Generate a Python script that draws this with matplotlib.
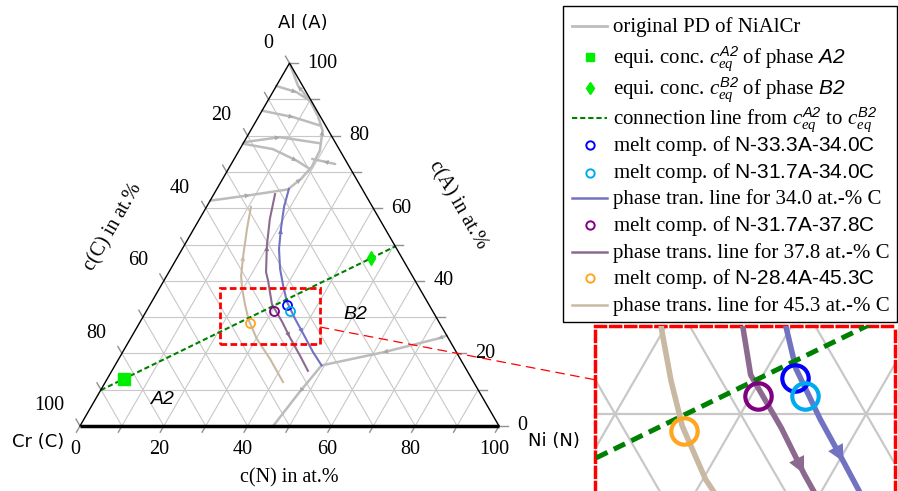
import numpy as np
import matplotlib.pyplot as plt
from matplotlib.patches import Rectangle, ConnectionPatch

plt.rcParams['mathtext.fontset'] = 'custom'
plt.rcParams['mathtext.rm'] = 'Liberation Serif'
plt.rcParams['mathtext.it'] = 'Liberation Serif:italic'
plt.rcParams['mathtext.sf'] = 'Liberation Sans'
# \mathbf is borrowed for the italic sans phase names A2 / B2
plt.rcParams['mathtext.bf'] = 'Liberation Sans:italic'

SERIF = 'Liberation Serif'
H = np.sqrt(3) / 2

# ---- data, compositions in at.% given as (N, A); C = 100 - N - A ----
# original phase diagram of NiAlCr
pd_main_N = [17.0, 18.7, 19.6, 19.3, 17.2, 14.0, 10.1, 5.2, 0.0]
pd_main_A = [65.2, 68.1, 71.4, 75.9, 81.4, 85.5, 89.6, 93.7, 100.0]
pd_b1_N = [0.0, 5.7, 10.1]
pd_b1_A = [93.7, 92.0, 89.6]
pd_b2_N = [0.0, 8.4, 15.9]
pd_b2_A = [86.9, 85.1, 82.8]
pd_b3_N = [0.0, 7.9, 18.4]
pd_b3_A = [78.2, 79.6, 77.9]
pd_b4_N = [0.0, 7.9, 15.2, 19.5]
pd_b4_A = [77.8, 76.3, 73.1, 70.8]
pd_b5_N = [24.8, 21.7, 18.6]
pd_b5_A = [72.2, 72.9, 73.6]
pd_long_N = [0.0, 8.7, 17.0]
pd_long_A = [62.1, 63.6, 65.2]
pd_low_N = [75.1, 73.4, 62.2, 49.3]
pd_low_A = [24.9, 24.1, 20.3, 16.7]
pd_bot_N = [49.3, 47.7, 46.1]
pd_bot_A = [16.7, 9.3, 0.0]

# phase transition lines
tr34_N = [17.2, 18.5, 20.8, 23.1, 26.1, 29.2, 32.3, 36.6, 40.4, 45.4, 49.3]
tr34_A = [65.3, 60.4, 54.3, 48.8, 43.3, 38.6, 34.2, 29.5, 25.6, 20.4, 16.7]
tr378_N = [14.6, 16.8, 19.8, 23.2, 24.9, 29.0, 33.9, 37.8, 42.9, 46.8]
tr378_A = [63.9, 57.0, 49.6, 42.4, 40.0, 33.6, 28.7, 24.5, 19.3, 15.2]
tr453_N = [10.6, 12.7, 15.5, 17.8, 19.8, 22.9, 25.9, 30.2, 36.1, 42.4]
tr453_A = [60.4, 54.3, 46.9, 41.3, 37.8, 33.1, 28.9, 24.0, 18.5, 12.1]
tr_C = ['34.0', '37.8', '45.3']
tr_words = ['tran.', 'trans.', 'trans.']
tr_colors = ['#7272c2', '#8c6a90', '#c9b9a3']

# equilibrium concentrations (N, A)
eq_A2 = (4.0, 13.0)
eq_B2 = (46.3, 46.2)

# melt compositions
melt_names = ['N-33.3A-34.0C', 'N-31.7A-34.0C', 'N-31.7A-37.8C', 'N-28.4A-45.3C']
melt_A = [33.3, 31.7, 31.7, 28.4]
melt_C = [34.0, 34.0, 37.8, 45.3]
melt_colors = ['#0000ff', '#00aaee', '#800080', '#ffa520']

tick_vals = [0, 20, 40, 60, 80, 100]

# zoom window (cartesian triangle coords, side = 1)
zx = (0.334, 0.573)
zy = (0.196, 0.330)


def xy(n, a):
    n = np.asarray(n, float) / 100
    a = np.asarray(a, float) / 100
    return n + a / 2, a * H


# curve, arrow tip indices, arrow points backwards?
pd_lines = [
    (pd_main_N, pd_main_A, [1, 4, 7], False),
    (pd_b1_N, pd_b1_A, [1], False),
    (pd_b2_N, pd_b2_A, [1], False),
    (pd_b3_N, pd_b3_A, [1], False),
    (pd_b4_N, pd_b4_A, [2], False),
    (pd_b5_N, pd_b5_A, [1], False),
    (pd_long_N, pd_long_A, [1], False),
    (pd_low_N, pd_low_A, [1, 2], False),
    (pd_bot_N, pd_bot_A, [1], False),
]
tr_lines = [
    (tr34_N, tr34_A, [(2, True), (8, False)]),
    (tr378_N, tr378_A, [(2, True), (7, False)]),
    (tr453_N, tr453_A, [(2, True)]),
]


def add_arrow(ax, xs, ys, i, back, color, scale, z):
    j = i + 1 if back else i - 1
    dx, dy = xs[i] - xs[j], ys[i] - ys[j]
    d = np.hypot(dx, dy)
    ax.annotate('', xy=(xs[i], ys[i]),
                xytext=(xs[i] - dx / d * 1e-3, ys[i] - dy / d * 1e-3),
                arrowprops=dict(arrowstyle='-|>', color=color, lw=0,
                                mutation_scale=scale, shrinkA=0, shrinkB=0),
                zorder=z)


def draw_content(ax, grid_lw, pd_lw, tr_lw, dash_lw, circ_ms, circ_mew, arr):
    for k in range(1, 10):
        c = k / 10
        kw = dict(color='#c8c8c8', lw=grid_lw, zorder=1)
        ax.plot([c / 2, 1 - c / 2], [c * H, c * H], **kw)
        ax.plot([c, (1 + c) / 2], [0, (1 - c) * H], **kw)
        ax.plot([1 - c, (1 - c) / 2], [0, (1 - c) * H], **kw)

    for n, a, tips, back in pd_lines:
        xs, ys = xy(n, a)
        ax.plot(xs, ys, color='#bcbcbc', lw=pd_lw, zorder=2, solid_capstyle='round')
        for i in tips:
            add_arrow(ax, xs, ys, i, back, '#a8a8a8', arr, 2.5)

    for (n, a, tips), col in zip(tr_lines, tr_colors):
        xs, ys = xy(n, a)
        ax.plot(xs, ys, color=col, lw=tr_lw, zorder=3)
        for i, back in tips:
            add_arrow(ax, xs, ys, i, back, col, arr, 3.5)

    # connection line through both equilibrium points, cut at the triangle edges
    pa = np.array([eq_A2[0], eq_A2[1], 100 - sum(eq_A2)])
    pb = np.array([eq_B2[0], eq_B2[1], 100 - sum(eq_B2)])
    t0 = -pa[0] / (pb[0] - pa[0])
    t1 = pa[2] / (pa[2] - pb[2])
    ends = [pa + t * (pb - pa) for t in (t0, t1)]
    xs, ys = xy([e[0] for e in ends], [e[1] for e in ends])
    ax.plot(xs, ys, color='green', lw=dash_lw, ls=(0, (2.5, 1.4)), zorder=4)

    for A, C, col in zip(melt_A, melt_C, melt_colors):
        mx, my = xy(100 - A - C, A)
        ax.plot(mx, my, ls='none', marker='o', mfc='none', mec=col,
                ms=circ_ms, mew=circ_mew, zorder=5)


fig = plt.figure(figsize=(8.98, 4.91), dpi=100)
ax = fig.add_axes([0, 0, 1, 1])
ax.set_xlim(-80 / 419, 818 / 419)
ax.set_ylim(-65 / 419, 426 / 419)
ax.axis('off')

draw_content(ax, 0.8, 1.8, 1.5, 1.5, 6.5, 1.3, 9)

# equilibrium markers
x, y = xy(*eq_A2)
ax.plot(x, y, ls='none', marker='s', color='#00ee00', ms=8, zorder=6)
x, y = xy(*eq_B2)
ax.plot(x, y, ls='none', marker='d', color='#00ee00', ms=7, zorder=6)

# triangle edges
ax.plot([0, 0.5, 1], [0, H, 0], color='k', lw=1, zorder=6)
ax.plot([0, 1], [0, 0], color='k', lw=2.5, zorder=6, solid_capstyle='butt')

# ticks and tick labels
tk = dict(color='#909090', lw=1, zorder=1)
for k in range(11):
    v = k / 10
    ax.plot([v, v - 0.5 * 0.017], [0, -H * 0.017], **tk)
    ax.plot([1 - v / 2, 1 - v / 2 + 0.021], [v * H, v * H], **tk)
    ax.plot([(1 - v) / 2, (1 - v) / 2 - 0.5 * 0.019], [(1 - v) * H, (1 - v) * H + H * 0.019], **tk)
for t in tick_vals:
    v = t / 100
    ax.text(v - 0.011, -0.055, str(t), ha='center', va='center', family=SERIF, fontsize=14.5)
    ax.text(1 - v / 2 + 0.043, v * H, str(t), ha='left', va='center', family=SERIF, fontsize=14.5)
    ax.text((1 - v) / 2 - 0.038, (1 - v) * H + 0.048, str(t), ha='right', va='center',
            family=SERIF, fontsize=14.5)

# corner and axis titles
ax.text(0.532, 0.962, 'Al (A)', ha='center', va='center', fontsize=13)
ax.text(-0.100, -0.038, 'Cr (C)', ha='center', va='center', fontsize=13)
ax.text(1.069, -0.036, 'Ni (N)', ha='left', va='center', fontsize=13)
ax.text(0.499, -0.124, 'c(N) in at.%', ha='center', va='center', family=SERIF, fontsize=14.5)
ax.text(0.079, 0.475, 'c(C) in at.%', ha='center', va='center', rotation=60,
        family=SERIF, fontsize=14.5)
ax.text(0.902, 0.527, 'c(A) in at.%', ha='center', va='center', rotation=-60,
        family=SERIF, fontsize=14.5)

ax.text(0.198, 0.064, 'A2', ha='center', va='center', family='Liberation Sans',
        style='italic', fontsize=14)
ax.text(0.656, 0.267, 'B2', ha='center', va='center', family='Liberation Sans',
        style='italic', fontsize=14)

# zoom rectangle
ax.add_patch(Rectangle((zx[0], zy[0]), zx[1] - zx[0], zy[1] - zy[0], fill=False,
                       ec='red', lw=2, ls=(0, (2.4, 1.2)), zorder=7))

# inset
axins = fig.add_axes([595 / 898, -3 / 491, 300 / 898, 168 / 491])
axins.set_xlim(*zx)
axins.set_ylim(*zy)
axins.set_xticks([])
axins.set_yticks([])
draw_content(axins, 1.6, 4, 4, 3.6, 19, 3, 30)
for sp in axins.spines.values():
    sp.set_edgecolor('red')
    sp.set_linewidth(2.5)
    sp.set_linestyle((0, (2.9, 1.45)))

con = ConnectionPatch(xyA=(zx[1], zy[0] + 0.30 * (zy[1] - zy[0])), coordsA=ax.transData,
                      xyB=(0, 0.68), coordsB=axins.transAxes,
                      color='red', lw=0.9, ls=(0, (7, 5)), zorder=8)
fig.add_artist(con)

# legend, laid out by hand in pixel coordinates so the rows keep their spacing
melt_l = ['melt comp. of $\\mathsf{%s}$' % m.replace('-', '\u2010') for m in melt_names]
tr_l = ['phase %s line for %s at.-%% C' % (w, c) for w, c in zip(tr_words, tr_C)]
entries = [
    ('line', dict(color='#bdbdbd', lw=2), 'original PD of NiAlCr'),
    ('mark', dict(marker='s', color='#00ee00', ms=6),
     r'equi. conc. $c_{eq}^{\mathbf{A2}}$ of phase $\mathbf{A2}$'),
    ('mark', dict(marker='d', color='#00ee00', ms=6),
     r'equi. conc. $c_{eq}^{\mathbf{B2}}$ of phase $\mathbf{B2}$'),
    ('line', dict(color='green', lw=1.5, ls=(0, (2.5, 1.4))),
     r'connection line from $c_{eq}^{\mathbf{A2}}$ to $c_{eq}^{\mathbf{B2}}$'),
]
circ = dict(marker='o', mfc='none', mew=1.4, ms=6)
entries += [
    ('mark', dict(circ, mec=melt_colors[0]), melt_l[0]),
    ('mark', dict(circ, mec=melt_colors[1]), melt_l[1]),
    ('line', dict(color=tr_colors[0], lw=1.8), tr_l[0]),
    ('mark', dict(circ, mec=melt_colors[2]), melt_l[2]),
    ('line', dict(color=tr_colors[1], lw=1.8), tr_l[1]),
    ('mark', dict(circ, mec=melt_colors[3]), melt_l[3]),
    ('line', dict(color=tr_colors[2], lw=1.8), tr_l[2]),
]
baselines = [31.7, 62.3, 93.3, 124, 151, 178.3, 204, 231, 257.7, 284, 310.7]

lax = fig.add_axes([0, 0, 1, 1])
lax.set_xlim(0, 898)
lax.set_ylim(491, 0)
lax.axis('off')
lax.add_patch(Rectangle((563, 6), 334, 316, fill=False, ec='black', lw=1))
for (kind, kw, lab), yb in zip(entries, baselines):
    yc = yb - 5.6
    if kind == 'line':
        lax.plot([572, 607], [yc, yc], **kw)
    else:
        lax.plot([589.5], [yc], ls='none', **kw)
    lax.text(613, yb, lab, ha='left', va='baseline', family=SERIF, fontsize=15)

fig.savefig('out.png', dpi=100)
